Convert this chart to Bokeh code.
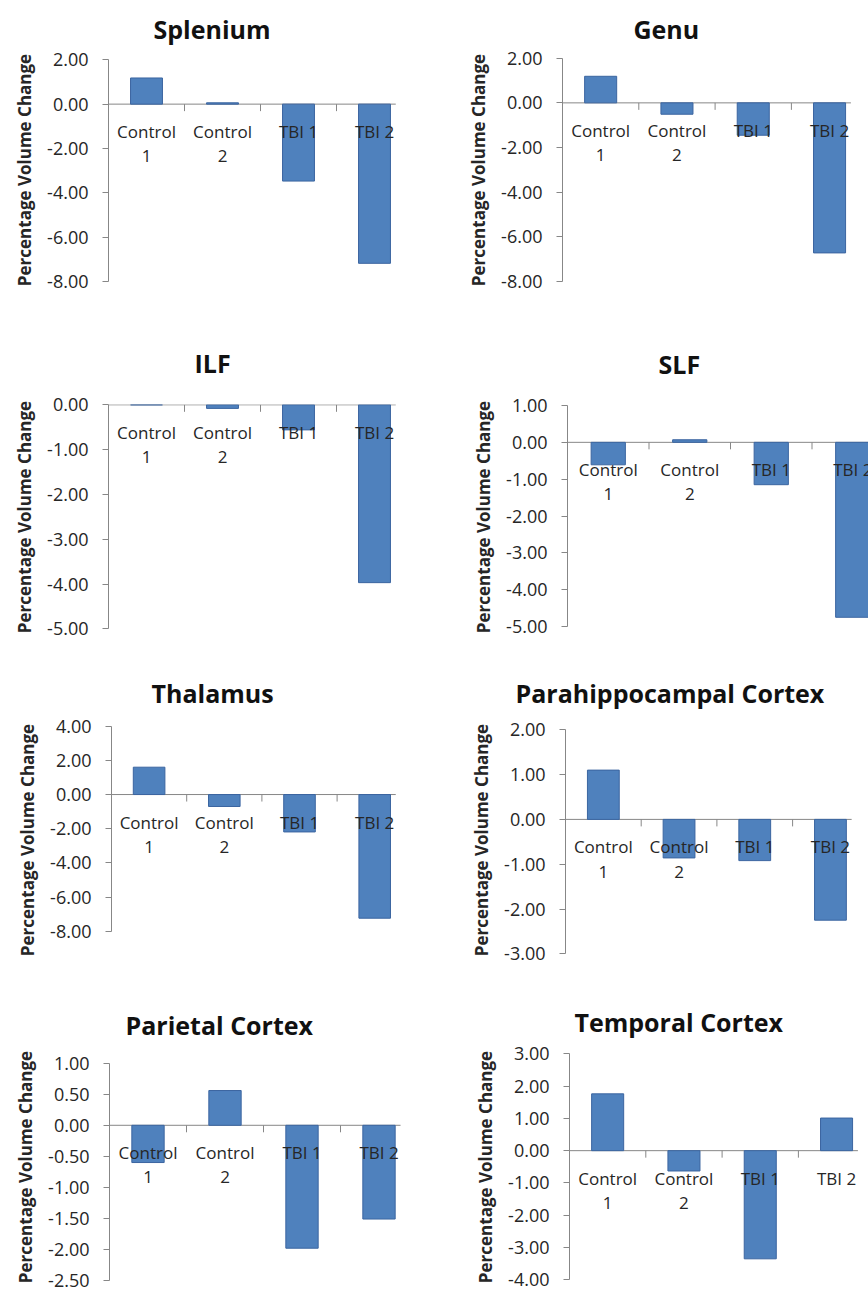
from math import pi
from bokeh.plotting import figure
from bokeh.models import Range1d, FixedTicker, NumeralTickFormatter
from bokeh.layouts import row, column
from bokeh.embed import file_html
from bokeh.resources import INLINE
from bokeh.core.properties import value

# ---------------- data ----------------
categories = ["Control\n1", "Control\n2", "TBI 1", "TBI 2"]

splenium = [1.18, 0.06, -3.47, -7.18]
genu = [1.19, -0.51, -1.45, -6.72]
ilf = [0.00, -0.08, -0.56, -3.97]
slf = [-0.61, 0.07, -1.15, -4.75]
thalamus = [1.60, -0.70, -2.19, -7.24]
parahippocampal = [1.10, -0.86, -0.92, -2.25]
parietal = [-0.60, 0.56, -1.98, -1.51]
temporal = [1.76, -0.63, -3.35, 1.01]

splenium_ticks = [2.0, 0.0, -2.0, -4.0, -6.0, -8.0]
genu_ticks = [2.0, 0.0, -2.0, -4.0, -6.0, -8.0]
ilf_ticks = [0.0, -1.0, -2.0, -3.0, -4.0, -5.0]
slf_ticks = [1.0, 0.0, -1.0, -2.0, -3.0, -4.0, -5.0]
thalamus_ticks = [4.0, 2.0, 0.0, -2.0, -4.0, -6.0, -8.0]
parahippocampal_ticks = [2.0, 1.0, 0.0, -1.0, -2.0, -3.0]
parietal_ticks = [1.0, 0.5, 0.0, -0.5, -1.0, -1.5, -2.0, -2.5]
temporal_ticks = [3.0, 2.0, 1.0, 0.0, -1.0, -2.0, -3.0, -4.0]

y_label = "Percentage Volume Change"

# ---------------- style ----------------
FONT = "Open Sans"
TXT = "#262626"
AXIS = "#878787"
BAR_FILL = "#4F81BD"
BAR_LINE = "#3B65A0"
TITLE_PX = 25
TITLE_BOX = 38   # approx. height Bokeh reserves for the title text

# approximate advance widths (em) of Open Sans Bold, used to centre titles
_W = {" ": 0.26, "S": 0.55, "p": 0.627, "l": 0.291, "e": 0.562, "n": 0.659,
      "i": 0.291, "u": 0.659, "m": 0.996, "G": 0.696, "I": 0.359, "L": 0.543,
      "F": 0.548, "T": 0.559, "h": 0.659, "a": 0.604, "s": 0.492, "r": 0.411,
      "c": 0.49, "o": 0.608, "P": 0.634, "t": 0.401, "C": 0.631, "x": 0.586}


def text_width(s, px):
    return sum(_W.get(ch, 0.6) for ch in s) * px


def make_panel(title, vals, ticks, fig_w, fig_h, left, frame_top, frame_bot,
               tick_top_px, tick_bot_px, cat_w, frame_w, title_cx, title_cy):
    n = len(categories)
    right = fig_w - left - frame_w
    bottom = fig_h - frame_bot
    x_end = frame_w / cat_w
    tmax, tmin = max(ticks), min(ticks)
    s = (tick_bot_px - tick_top_px) / (tmax - tmin)
    y_end = tmax + (tick_top_px - frame_top) / s
    y_start = tmin - (frame_bot - tick_bot_px) / s
    p = figure(width=fig_w, height=fig_h, output_backend="svg",
               toolbar_location=None, x_axis_location=None,
               x_range=Range1d(0, x_end),
               y_range=Range1d(y_start, y_end),
               min_border_left=left, min_border_right=right,
               min_border_top=frame_top, min_border_bottom=bottom)
    p.outline_line_color = None
    p.xgrid.visible = False
    p.ygrid.visible = False
    p.background_fill_color = "white"
    p.border_fill_color = "white"

    p.title.text = title
    p.title.align = "left"
    p.title.vertical_align = "top"
    p.title.offset = int(round(title_cx - text_width(title, TITLE_PX) / 2 - left))
    p.title.text_font = FONT
    p.title.text_font_style = "bold"
    p.title.text_font_size = f"{TITLE_PX}px"
    p.title.text_color = "#111111"
    want = 2 * (frame_top - title_cy - 20)
    p.title.standoff = int(max(0, min(want, frame_top - TITLE_BOX)))

    ax = p.yaxis[0]
    ax.bounds = (tmin, tmax)
    ax.ticker = FixedTicker(ticks=ticks, minor_ticks=[])
    ax.formatter = NumeralTickFormatter(format="0.00")
    ax.axis_line_color = AXIS
    ax.major_tick_line_color = AXIS
    ax.major_tick_out = 6
    ax.major_tick_in = 0
    ax.minor_tick_line_color = None
    ax.major_label_text_font = FONT
    ax.major_label_text_font_size = "18px"
    ax.major_label_text_color = TXT
    ax.major_label_standoff = 14
    ax.axis_label = y_label
    ax.axis_label_text_font = FONT
    ax.axis_label_text_font_style = "bold"
    ax.axis_label_text_font_size = "17px"
    ax.axis_label_text_color = TXT
    ax.axis_label_standoff = 8

    xs = [i + 0.5 for i in range(n)]
    zeros = [0.0] * n
    # horizontal category axis at zero
    p.line(x=[0, n - 0.22], y=[0, 0], line_color=AXIS, line_width=1)
    p.ray(x=list(range(1, n)), y=[0.0] * (n - 1), length=7, angle=-pi / 2,
          length_units="screen", line_color=AXIS, line_width=1)
    p.vbar(x=xs, top=vals, bottom=0, width=0.42, fill_color=BAR_FILL,
           line_color=BAR_LINE, line_width=1)
    p.text(x=xs, y=zeros, text=categories, text_align="center",
           text_baseline="top", y_offset=16, text_font=value(FONT),
           text_font_size="17px", text_line_height=1.05, text_color=TXT)
    return p


W = 434
p1 = make_panel("Splenium", splenium, splenium_ticks, W, 320, 108, 57, 282, 59.3, 281.0, 76.0, 304, 211, 24)
p2 = make_panel("Genu", genu, genu_ticks, W, 320, 128, 57, 282, 57.7, 281.0, 76.3, 306, 231, 24)
p3 = make_panel("ILF", ilf, ilf_ticks, W, 340, 108, 84, 309, 84.3, 308.3, 76.0, 304, 212, 41)
p4 = make_panel("SLF", slf, slf_ticks, W, 340, 133, 84, 309, 85.0, 306.0, 81.5, 301, 245, 42)
p5 = make_panel("Thalamus", thalamus, thalamus_ticks, W, 330, 111, 65, 294, 65.7, 270.7, 75.2, 301, 212, 25)
p6 = make_panel("Parahippocampal Cortex", parahippocampal, parahippocampal_ticks, W, 330, 131, 65, 294, 69.3, 293.3, 75.7, 303, 233, 26)
p7 = make_panel("Parietal Cortex", parietal, parietal_ticks, W, 310, 109, 63, 290, 72.7, 290.0, 77.0, 308, 216, 33)
p8 = make_panel("Temporal Cortex", temporal, temporal_ticks, W, 310, 135, 63, 290, 63.3, 289.3, 76.3, 299, 241, 23)

layout = column(row(p1, p2), row(p3, p4), row(p5, p6), row(p7, p8))

open("out.html", "w").write(file_html(layout, INLINE))
